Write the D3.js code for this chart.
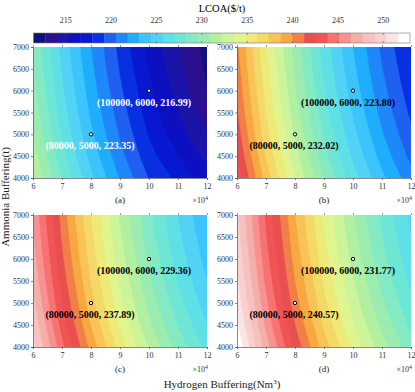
<!DOCTYPE html>
<html>
<head>
<meta charset="utf-8">
<script src="https://cdn.jsdelivr.net/npm/d3@7"></script>
<style>
  body { margin: 0; background: #fff; }
  svg { display: block; }
  text { font-family: "Liberation Serif", "Times New Roman", serif; }
</style>
</head>
<body>
<svg width="415" height="392"></svg>
<script>
// grid the surfaces are sampled on
const xGrid = [6, 7, 8, 9, 10, 11, 12];              // x10^4 Nm3
const yGrid = [4000, 4500, 5000, 5500, 6000, 6500, 7000]; // t

// LCOA ($/t), one row per yGrid value (4000 first), one column per xGrid value
const lcoaA = [
  [232.30, 228.20, 224.70, 221.71, 219.16, 217.60, 215.90],
  [231.55, 227.45, 223.95, 220.96, 218.41, 216.70, 214.90],
  [230.95, 226.85, 223.35, 220.36, 217.81, 215.90, 214.10],
  [230.46, 226.36, 222.86, 219.87, 217.32, 215.30, 213.40],
  [230.05, 225.95, 222.45, 219.46, 216.99, 214.80, 212.90],
  [229.70, 225.60, 222.10, 219.11, 216.56, 214.40, 212.50],
  [229.41, 225.31, 221.81, 218.82, 216.27, 214.10, 212.20]
];
const lcoaB = [
  [243.43, 238.08, 233.51, 229.61, 226.28, 223.43, 221.00],
  [242.60, 237.25, 232.68, 228.78, 225.45, 222.60, 220.17],
  [241.94, 236.59, 232.02, 228.12, 224.79, 221.94, 219.51],
  [241.40, 236.05, 231.48, 227.58, 224.25, 221.40, 218.97],
  [240.95, 235.60, 231.03, 227.13, 223.80, 220.95, 218.52],
  [240.57, 235.22, 230.65, 226.75, 223.42, 220.57, 218.14],
  [240.24, 234.89, 230.32, 226.42, 223.09, 220.24, 217.81]
];
const lcoaC = [
  [249.73, 244.22, 239.51, 235.50, 232.06, 229.13, 226.63],
  [248.83, 243.32, 238.61, 234.60, 231.16, 228.23, 225.73],
  [248.11, 242.60, 237.89, 233.88, 230.44, 227.51, 225.01],
  [247.52, 242.01, 237.30, 233.29, 229.85, 226.92, 224.42],
  [247.03, 241.52, 236.81, 232.80, 229.36, 226.43, 223.93],
  [246.61, 241.10, 236.39, 232.38, 228.94, 226.01, 223.51],
  [246.26, 240.75, 236.04, 232.03, 228.59, 225.66, 223.16]
];
const lcoaD = [
  [252.76, 247.06, 242.19, 238.04, 234.49, 231.45, 228.87],
  [251.86, 246.16, 241.29, 237.14, 233.59, 230.55, 227.97],
  [251.14, 245.44, 240.57, 236.42, 232.87, 229.83, 227.25],
  [250.55, 244.85, 239.98, 235.83, 232.28, 229.24, 226.66],
  [250.06, 244.36, 239.49, 235.34, 231.77, 228.75, 226.17],
  [249.64, 243.94, 239.07, 234.92, 231.37, 228.33, 225.75],
  [249.29, 243.59, 238.72, 234.57, 231.02, 227.98, 225.40]
];

const panelTags = ["(a)", "(b)", "(c)", "(d)"];
const marked = [
  [[8, 5000, "(80000, 5000, 223.35)"], [10, 6000, "(100000, 6000, 216.99)"]],
  [[8, 5000, "(80000, 5000, 232.02)"], [10, 6000, "(100000, 6000, 223.80)"]],
  [[8, 5000, "(80000, 5000, 237.89)"], [10, 6000, "(100000, 6000, 229.36)"]],
  [[8, 5000, "(80000, 5000, 240.57)"], [10, 6000, "(100000, 6000, 231.77)"]]
];

const xTicks = [6, 7, 8, 9, 10, 11, 12];
const yTicks = [4000, 4500, 5000, 5500, 6000, 6500, 7000];
const cbTicks = [215, 220, 225, 230, 235, 240, 245, 250];
const cbMin = 211.45, cbMax = 252.95;

const palette = [
  "#10127a", "#2a108e", "#1a14a8", "#0c10c0", "#0818d0", "#0830e0", "#2060f0", "#1e88fa",
  "#1eaefc", "#3ec4fc", "#52d2f4", "#5ee0e6", "#6ee6d6", "#84eac4", "#9aecb0", "#b0f0a0",
  "#ccf49a", "#e0f490", "#eeea78", "#f4d868", "#f8c458", "#f8a840", "#f08048", "#e85050",
  "#f05454", "#f87272", "#f89292", "#f4b0a8", "#f8c0c0", "#f8d0d0", "#fce4e4", "#ffffff"
];

const svg = d3.select("svg");
const step = (cbMax - cbMin) / palette.length;
const levels = palette.map((c, i) => cbMin + i * step);

// colorbar
const cb = {x0: 33.5, x1: 410, y0: 33, y1: 43};
const cbScale = d3.scaleLinear().domain([cbMin, cbMax]).range([cb.x0, cb.x1]);
svg.append("text").attr("x", 222).attr("y", 12).attr("text-anchor", "middle")
  .attr("font-size", 10.5).text("LCOA($/t)");
svg.append("g").selectAll("rect").data(levels).join("rect")
  .attr("x", d => cbScale(d)).attr("y", cb.y0)
  .attr("width", cbScale(cbMin + step) - cbScale(cbMin) + 0.3)
  .attr("height", cb.y1 - cb.y0)
  .attr("fill", (d, i) => palette[i]);
svg.append("rect").attr("x", cb.x0).attr("y", cb.y0)
  .attr("width", cb.x1 - cb.x0).attr("height", cb.y1 - cb.y0)
  .attr("fill", "none").attr("stroke", "#777").attr("stroke-width", 0.6);
const cbT = svg.append("g").selectAll("g").data(cbTicks).join("g");
cbT.append("text").attr("x", d => cbScale(d)).attr("y", 23)
  .attr("text-anchor", "middle").attr("font-size", 8).attr("fill", "#333").text(d => d);
cbT.append("line").attr("x1", d => cbScale(d)).attr("x2", d => cbScale(d))
  .attr("y1", cb.y0).attr("y2", cb.y0 + 2).attr("stroke", "#555").attr("stroke-width", 0.6);
cbT.append("line").attr("x1", d => cbScale(d)).attr("x2", d => cbScale(d))
  .attr("y1", cb.y1 - 2).attr("y2", cb.y1).attr("stroke", "#555").attr("stroke-width", 0.6);

const boxes = [
  {x0: 33, x1: 207, y0: 47, y1: 178},
  {x0: 237, x1: 411, y0: 47, y1: 178},
  {x0: 33, x1: 207, y0: 215, y1: 347},
  {x0: 237, x1: 411, y0: 215, y1: 347}
];
const surfaces = [lcoaA, lcoaB, lcoaC, lcoaD];
const dx = xGrid[1] - xGrid[0], dy = yGrid[1] - yGrid[0];

surfaces.forEach((grid, p) => {
  const b = boxes[p];
  const xScale = d3.scaleLinear().domain([6, 12]).range([b.x0, b.x1]);
  const yScale = d3.scaleLinear().domain([4000, 7000]).range([b.y1, b.y0]);
  const g = svg.append("g");

  g.append("clipPath").attr("id", "clip" + p)
    .append("rect").attr("x", b.x0).attr("y", b.y0)
    .attr("width", b.x1 - b.x0).attr("height", b.y1 - b.y0);

  const values = grid.flat();
  const contours = d3.contours().size([xGrid.length, yGrid.length])
    .thresholds(levels.slice(1))(values);
  const proj = d3.geoTransform({
    point: function(cx, cy) {
      this.stream.point(xScale(xGrid[0] + (cx - 0.5) * dx), yScale(yGrid[0] + (cy - 0.5) * dy));
    }
  });
  const path = d3.geoPath(proj);
  const fillG = g.append("g").attr("clip-path", `url(#clip${p})`);
  fillG.append("rect").attr("x", b.x0).attr("y", b.y0)
    .attr("width", b.x1 - b.x0).attr("height", b.y1 - b.y0).attr("fill", palette[0]);
  fillG.selectAll("path").data(contours).join("path")
    .attr("d", path)
    .attr("fill", (d, i) => palette[i + 1])
    .attr("stroke", (d, i) => palette[i + 1]).attr("stroke-width", 0.3);

  // axes
  const xAxis = g.append("g").attr("transform", `translate(0,${b.y1})`)
    .call(d3.axisBottom(xScale).tickValues(xTicks).tickSize(2).tickPadding(3).tickFormat(d3.format("d")));
  const yAxis = g.append("g").attr("transform", `translate(${b.x0},0)`)
    .call(d3.axisLeft(yScale).tickValues(yTicks).tickSize(2).tickPadding(2).tickFormat(d3.format("d")));
  const topTicks = g.append("g").attr("transform", `translate(0,${b.y0})`)
    .call(d3.axisTop(xScale).tickValues(xTicks).tickSize(2).tickFormat(""));
  topTicks.select(".domain").remove();
  topTicks.selectAll("line").attr("stroke", "#999");
  [xAxis, yAxis].forEach(ax => {
    ax.select(".domain").attr("stroke", "#555").attr("stroke-width", 0.7);
    ax.selectAll(".tick line").attr("stroke", "#555").attr("stroke-width", 0.7);
    ax.selectAll("text").attr("font-family", "Liberation Serif, serif")
      .attr("font-size", 8).attr("fill", "#333");
  });

  const sci = g.append("text").attr("x", b.x1 + 1).attr("y", b.y1 + 25)
    .attr("text-anchor", "end").attr("font-size", 8).attr("fill", "#333");
  sci.append("tspan").text("\u00d710");
  sci.append("tspan").attr("dy", -3.5).attr("font-size", 6).text("4");

  g.append("text").attr("x", (b.x0 + b.x1) / 2).attr("y", b.y1 + 25)
    .attr("text-anchor", "middle").attr("font-size", 9).attr("fill", "#222").text(panelTags[p]);

  // marked designs
  const labColor = p === 0 ? "#fff" : "#000";
  const mk = g.append("g").selectAll("g").data(marked[p]).join("g");
  mk.append("circle")
    .attr("cx", d => xScale(d[0])).attr("cy", d => yScale(d[1])).attr("r", 1.7)
    .attr("fill", "#fff").attr("stroke", "#000").attr("stroke-width", 1);
  mk.append("text")
    .attr("x", (d, i) => xScale(d[0]) - (i === 0 ? 1 : 5))
    .attr("y", d => yScale(d[1]) + 15)
    .attr("text-anchor", "middle").attr("font-size", 10).attr("font-weight", "bold")
    .attr("fill", labColor).text(d => d[2]);
});

svg.append("text").attr("transform", "translate(9,197) rotate(-90)")
  .attr("text-anchor", "middle").attr("font-size", 11).attr("fill", "#222")
  .text("Ammonia Buffering(t)");
const xl = svg.append("text").attr("x", 222).attr("y", 388)
  .attr("text-anchor", "middle").attr("font-size", 11).attr("fill", "#222");
xl.append("tspan").text("Hydrogen Buffering(Nm");
xl.append("tspan").attr("dy", -4).attr("font-size", 7).text("3");
xl.append("tspan").attr("dy", 4).text(")");
</script>
</body>
</html>
